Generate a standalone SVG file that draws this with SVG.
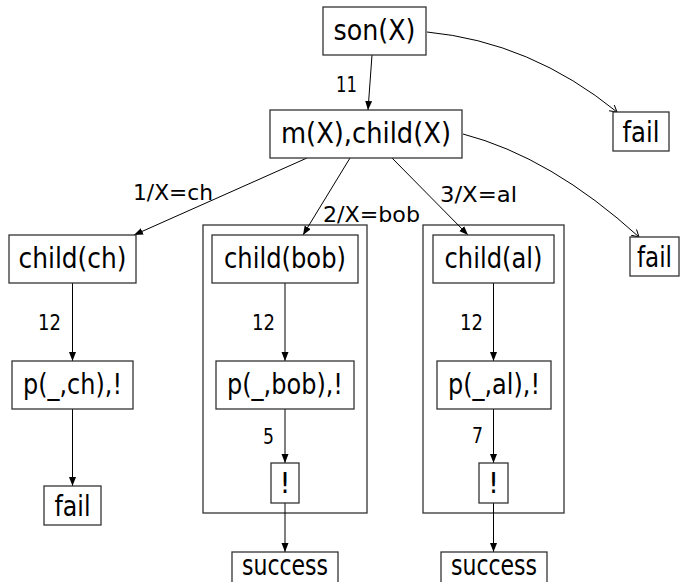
<svg xmlns="http://www.w3.org/2000/svg" width="684" height="582" viewBox="0 0 684 582">
<style>
  .box { fill: #fff; stroke: #333; stroke-width: 1.3; }
  .frame { fill: none; stroke: #333; stroke-width: 1.3; }
  .t { font-family: "DejaVu Sans", "Liberation Sans", sans-serif; font-size: 27.5px; fill: #000; text-anchor: middle; }
  .l { font-family: "DejaVu Sans", "Liberation Sans", sans-serif; font-size: 21px; fill: #000; }
  .e { fill: none; stroke: #000; stroke-width: 1; }
</style>
<defs>
  <marker id="arr" markerUnits="userSpaceOnUse" markerWidth="10" markerHeight="8" refX="9" refY="3.5" orient="auto">
    <path d="M0,0 L9,3.5 L0,7 z" fill="#000"/>
  </marker>
  <marker id="open" markerUnits="userSpaceOnUse" markerWidth="9" markerHeight="9" refX="7" refY="4" orient="auto">
    <path d="M0,0 L7,4 L0,8" fill="none" stroke="#000" stroke-width="1"/>
  </marker>
</defs>

<g id="frames">
  <rect class="frame" x="203" y="225" width="164" height="288"/>
  <rect class="frame" x="423" y="225" width="141" height="288"/>
</g>

<g id="connectors">
  <line class="e" x1="372" y1="55" x2="368" y2="110" marker-end="url(#arr)"/>
  <path class="e" d="M427,32 Q531,42 617,112" marker-end="url(#open)"/>
  <path class="e" d="M463,134 Q551,157 639,237" marker-end="url(#open)"/>
  <line class="e" x1="307" y1="158" x2="134" y2="235" marker-end="url(#arr)"/>
  <line class="e" x1="350" y1="158" x2="303" y2="235" marker-end="url(#arr)"/>
  <line class="e" x1="392" y1="158" x2="468" y2="235" marker-end="url(#arr)"/>
  <line class="e" x1="72.5" y1="283" x2="72.5" y2="361" marker-end="url(#arr)"/>
  <line class="e" x1="72.5" y1="409" x2="72.5" y2="486" marker-end="url(#arr)"/>
  <line class="e" x1="285" y1="283" x2="285" y2="361" marker-end="url(#arr)"/>
  <line class="e" x1="285" y1="409" x2="285" y2="463" marker-end="url(#arr)"/>
  <line class="e" x1="285" y1="503" x2="285" y2="552" marker-end="url(#arr)"/>
  <line class="e" x1="493.5" y1="283" x2="493.5" y2="361" marker-end="url(#arr)"/>
  <line class="e" x1="493.5" y1="409" x2="493.5" y2="463" marker-end="url(#arr)"/>
  <line class="e" x1="493.5" y1="503" x2="493.5" y2="552" marker-end="url(#arr)"/>
  <text class="l" x="357" y="92" text-anchor="end" textLength="21" lengthAdjust="spacingAndGlyphs">11</text>
  <text class="l" x="133" y="200" textLength="80" lengthAdjust="spacingAndGlyphs">1/X=ch</text>
  <text class="l" x="323" y="222" textLength="97" lengthAdjust="spacingAndGlyphs">2/X=bob</text>
  <text class="l" x="440" y="202" textLength="77" lengthAdjust="spacingAndGlyphs">3/X=al</text>
  <text class="l" x="38" y="330" textLength="23" lengthAdjust="spacingAndGlyphs">12</text>
  <text class="l" x="252" y="330" textLength="23" lengthAdjust="spacingAndGlyphs">12</text>
  <text class="l" x="460" y="330" textLength="23" lengthAdjust="spacingAndGlyphs">12</text>
  <text class="l" x="263" y="444" textLength="11" lengthAdjust="spacingAndGlyphs">5</text>
  <text class="l" x="472" y="443" textLength="11" lengthAdjust="spacingAndGlyphs">7</text>
</g>

<g id="n-son"><rect class="box" x="323" y="7" width="103" height="48"/><text class="t" x="374.5" y="40" textLength="82" lengthAdjust="spacingAndGlyphs">son(X)</text></g>
<g id="n-m"><rect class="box" x="270" y="110" width="192" height="48"/><text class="t" x="366" y="143" textLength="170" lengthAdjust="spacingAndGlyphs">m(X),child(X)</text></g>
<g id="n-fail1"><rect class="box" x="613" y="112" width="56" height="39"/><text class="t" x="641" y="142" textLength="37" lengthAdjust="spacingAndGlyphs">fail</text></g>
<g id="n-fail2"><rect class="box" x="630" y="237" width="49" height="39"/><text class="t" x="654.5" y="267" textLength="35" lengthAdjust="spacingAndGlyphs">fail</text></g>
<g id="n-childch"><rect class="box" x="9" y="235" width="127" height="48"/><text class="t" x="72.5" y="268" textLength="108" lengthAdjust="spacingAndGlyphs">child(ch)</text></g>
<g id="n-childbob"><rect class="box" x="212" y="235" width="146" height="48"/><text class="t" x="285" y="268" textLength="122" lengthAdjust="spacingAndGlyphs">child(bob)</text></g>
<g id="n-childal"><rect class="box" x="433" y="235" width="121" height="48"/><text class="t" x="493.5" y="268" textLength="98" lengthAdjust="spacingAndGlyphs">child(al)</text></g>
<g id="n-pch"><rect class="box" x="12" y="361" width="121" height="48"/><text class="t" x="72.5" y="394" textLength="99" lengthAdjust="spacingAndGlyphs">p(_,ch),!</text></g>
<g id="n-pbob"><rect class="box" x="216" y="361" width="138" height="48"/><text class="t" x="285" y="394" textLength="116" lengthAdjust="spacingAndGlyphs">p(_,bob),!</text></g>
<g id="n-pal"><rect class="box" x="437" y="361" width="114" height="48"/><text class="t" x="494" y="394" textLength="92" lengthAdjust="spacingAndGlyphs">p(_,al),!</text></g>
<g id="n-failch"><rect class="box" x="44" y="486" width="57" height="39"/><text class="t" x="72.5" y="516" textLength="36" lengthAdjust="spacingAndGlyphs">fail</text></g>
<g id="n-cutbob"><rect class="box" x="271" y="463" width="28" height="40"/><text class="t" x="285" y="493">!</text></g>
<g id="n-cutal"><rect class="box" x="479" y="463" width="29" height="40"/><text class="t" x="493.5" y="493">!</text></g>
<g id="n-succbob"><rect class="box" x="232" y="552" width="106" height="36"/><text class="t" x="285" y="575" textLength="86" lengthAdjust="spacingAndGlyphs">success</text></g>
<g id="n-succal"><rect class="box" x="441" y="552" width="106" height="36"/><text class="t" x="494" y="575" textLength="86" lengthAdjust="spacingAndGlyphs">success</text></g>
</svg>
